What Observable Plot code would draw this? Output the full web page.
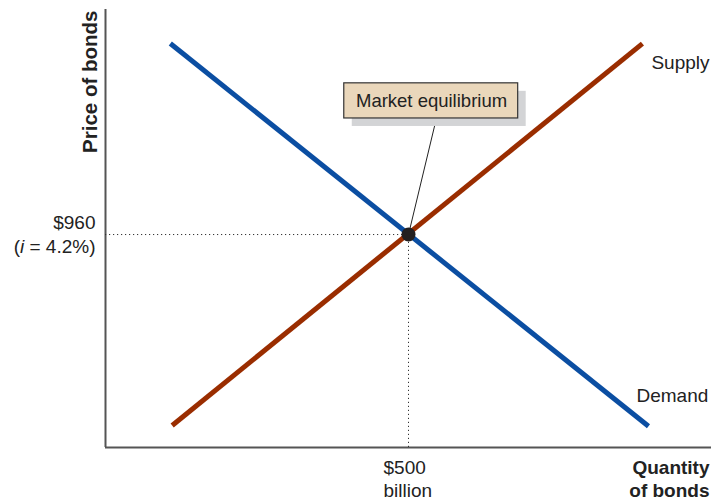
<!DOCTYPE html>
<html>
<head>
<meta charset="utf-8">
<script src="https://cdn.jsdelivr.net/npm/d3@7"></script>
<script src="https://cdn.jsdelivr.net/npm/@observablehq/plot@0.6"></script>
<style>
  body { margin: 0; background: #fff; }
  #chart svg { display: block; }
</style>
</head>
<body>
<div id="chart"></div>
<script>
// Bond market: demand and supply curves (quantity in $ billions, price in $)
const demandQty = [107, 896];
const demandPrice = [1013.8, 906];
const supplyQty = [110, 886];
const supplyPrice = [906.2, 1013.8];

// Equilibrium
const eqQty = 500;
const eqPrice = 960;
const eqRate = 4.2;

// Axis extent (quantity and price units)
const qtyDomain = [0, 1000];
const priceDomain = [900, 1023.4];

// Callout box for the equilibrium point
const noteLabel = "Market equilibrium";
const noteBox = {x1: 394, x2: 681, y1: 992.7, y2: 1002.6};
const noteText = {x: 538, y: 997.6};
const noteLeader = {x: 546, y: 992.7};

const BLUE = "#0b4ea2";
const RUST = "#9a2d00";
const FONT = "'Liberation Sans', Arial, Helvetica, sans-serif";

const demand = demandQty.map((q, i) => ({q, p: demandPrice[i]}));
const supply = supplyQty.map((q, i) => ({q, p: supplyPrice[i]}));
const eq = [{q: eqQty, p: eqPrice}];

const chart = Plot.plot({
  width: 711,
  height: 502,
  margin: 0,
  style: {fontFamily: FONT, fontSize: "19px", color: "#222", background: "#fff"},
  x: {domain: qtyDomain, range: [105, 711], axis: null},
  y: {domain: priceDomain, range: [447, 9], axis: null},
  marks: [
    // axes
    Plot.ruleX([qtyDomain[0]], {y1: priceDomain[0], y2: priceDomain[1], stroke: "#555", strokeWidth: 2}),
    Plot.ruleY([priceDomain[0]], {x1: qtyDomain[0], x2: qtyDomain[1], stroke: "#555", strokeWidth: 2}),
    // dotted guides to equilibrium
    Plot.ruleY(eq, {y: "p", x1: qtyDomain[0], x2: "q", stroke: "#333", strokeWidth: 1, strokeDasharray: "1.2,2.8"}),
    Plot.ruleX(eq, {x: "q", y1: priceDomain[0], y2: "p", stroke: "#333", strokeWidth: 1, strokeDasharray: "1.2,2.8"}),
    // curves
    Plot.line(demand, {x: "q", y: "p", stroke: BLUE, strokeWidth: 5, strokeLinecap: "butt"}),
    Plot.line(supply, {x: "q", y: "p", stroke: RUST, strokeWidth: 5, strokeLinecap: "butt"}),
    // leader line from callout to equilibrium
    Plot.link(eq, {x1: noteLeader.x, y1: noteLeader.y, x2: "q", y2: "p", stroke: "#222", strokeWidth: 1}),
    Plot.dot(eq, {x: "q", y: "p", r: 7, fill: "#231f20", stroke: "none"}),
    // callout box with shadow
    Plot.rect([noteBox], {x1: "x1", x2: "x2", y1: "y1", y2: "y2", fill: "#d3d4d6", dx: 8, dy: 8}),
    Plot.rect([noteBox], {x1: "x1", x2: "x2", y1: "y1", y2: "y2", fill: "#ead7bb", stroke: "#333", strokeWidth: 1.2}),
    Plot.text([noteText], {x: "x", y: "y", text: () => noteLabel, fontSize: 18.5, fill: "#222"}),
    // curve labels
    Plot.text([supply[supply.length - 1]], {x: "q", y: "p", text: () => "Supply", textAnchor: "start", dx: 9, dy: 19, fill: "#222"}),
    Plot.text([demand[demand.length - 1]], {x: "q", y: "p", text: () => "Demand", textAnchor: "start", dx: -12, dy: -30, fill: "#222"}),
    // equilibrium price label
    Plot.text(eq, {x: qtyDomain[0], y: "p", text: d => `$${d3.format(",")(d.p)}`, textAnchor: "end", dx: -10, dy: -12, fill: "#222"}),
    Plot.text(eq, {x: qtyDomain[0], y: "p", text: () => `(i = ${eqRate}%)`, textAnchor: "end", dx: -10, dy: 12, fill: "#222"}),
    // equilibrium quantity label
    Plot.text(eq, {x: "q", y: priceDomain[0], text: d => `$${d.q}\nbillion`, textAnchor: "start", lineAnchor: "top", lineHeight: 1.22, dx: -25, dy: 10, fill: "#222"}),
    // axis titles
    Plot.text(["Quantity\nof bonds"], {x: qtyDomain[1], y: priceDomain[0], text: d => d, textAnchor: "end", lineAnchor: "top", lineHeight: 1.22, dx: -2, dy: 10, fontWeight: "bold", fill: "#222"}),
    Plot.text(["Price of bonds"], {x: qtyDomain[0], y: priceDomain[1], text: d => d, rotate: -90, textAnchor: "end", dx: -15, dy: 1, fontSize: 20.5, fontWeight: "bold", fill: "#222"})
  ]
});

// Italicise the interest-rate symbol
d3.select(chart).selectAll("text").each(function () {
  const t = d3.select(this);
  const s = this.textContent;
  if (s.startsWith("(i = ")) {
    t.text(null);
    t.append("tspan").text("(");
    t.append("tspan").attr("font-style", "italic").text("i");
    t.append("tspan").text(s.slice(2));
  }
});

document.getElementById("chart").append(chart);
</script>
</body>
</html>
